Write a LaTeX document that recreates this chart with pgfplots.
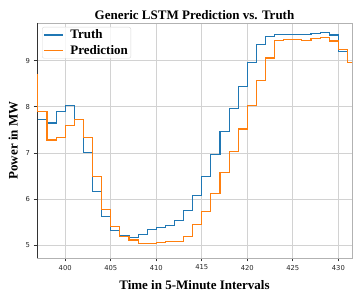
\documentclass[border=0pt]{standalone}
\usepackage{fontspec}
\setmainfont{Liberation Serif}
\newfontfamily\tickfont{DejaVu Sans}
\usepackage{pgfplots}
\pgfplotsset{compat=1.18}
\definecolor{tabblue}{HTML}{1F77B4}
\definecolor{taborange}{HTML}{FF7F0E}
\newcommand{\lab}{\fontsize{13}{15}\selectfont\bfseries}
\begin{document}
\begin{tikzpicture}
\begin{axis}[
  scale only axis, width=315pt, height=235pt,
  xmin=396.9, xmax=431.5, ymin=4.72, ymax=9.82,
  xtick={400,405,...,430}, ytick={5,6,7,8,9},
  tick label style={font=\tickfont\fontsize{6.8}{7}\selectfont, text=black!85},
  /pgf/number format/assume math mode=true,
  tick align=outside, xtick pos=bottom, ytick pos=left,
  major tick length=3.5pt,
  tick style={black!80, line width=0.8pt},
  grid=major, grid style={gray!35, line width=0.8pt},
  axis line style={gray!60, line width=0.8pt},
  title={Generic LSTM Prediction vs. Truth},
  title style={font=\lab, at={(axis description cs:0.5,1)}, anchor=south, inner sep=0pt, yshift=-2.5pt},
  xlabel={Time in 5-Minute Intervals},
  xlabel style={font=\lab, at={(axis description cs:0.5,0)}, anchor=north, inner sep=0pt, yshift=-22pt},
  ylabel={Power in MW},
  ylabel style={font=\lab, at={(axis description cs:-0.0603,0.5)}, anchor=south, inner sep=0pt},
  legend style={at={(axis description cs:0.0159,0.983)}, anchor=north west,
    draw=gray!30, rounded corners=2pt, fill=white, fill opacity=0.8, text opacity=1,
    font=\lab, inner xsep=1.5pt, inner ysep=1pt, row sep=2pt, column sep=5pt,
    nodes={inner sep=1.5pt}},
  legend cell align=left,
  legend image code/.code={\draw[#1] (0pt,0pt) -- (19pt,0pt);},
]
\draw[black!80, line width=0.8pt] (rel axis cs:0,1) -- (rel axis cs:0,0) -- (rel axis cs:1,0);
\addplot[const plot, tabblue, line width=1.1pt] table {
x y
397 7.73
398 7.65
399 7.90
400 8.03
401 7.73
402 7.01
403 6.16
404 5.62
405 5.32
406 5.21
407 5.17
408 5.23
409 5.33
410 5.38
411 5.42
412 5.53
413 5.76
414 6.08
415 6.48
416 6.97
417 7.46
418 7.96
419 8.44
420 8.96
421 9.35
422 9.52
423 9.57
424 9.57
425 9.57
426 9.58
427 9.60
428 9.62
429 9.56
430 9.20
431 9.20
};
\addlegendentry{Truth}
\addplot[const plot, taborange, line width=1.1pt] table {
x y
396 8.70
397 7.90
398 7.28
399 7.33
400 7.59
401 7.73
402 7.34
403 6.48
404 5.78
405 5.41
406 5.18
407 5.11
408 5.03
409 5.03
410 5.06
411 5.07
412 5.07
413 5.18
414 5.45
415 5.73
416 6.12
417 6.58
418 7.03
419 7.52
420 8.02
421 8.57
422 9.06
423 9.44
424 9.46
425 9.46
426 9.44
427 9.48
428 9.51
429 9.43
430 9.25
431 8.97
432 8.97
};
\addlegendentry{Prediction}
\end{axis}
\path ([shift={(-37pt,-42pt)}]current axis.south west) rectangle ([shift={(10pt,23pt)}]current axis.north east);
\end{tikzpicture}
\end{document}
